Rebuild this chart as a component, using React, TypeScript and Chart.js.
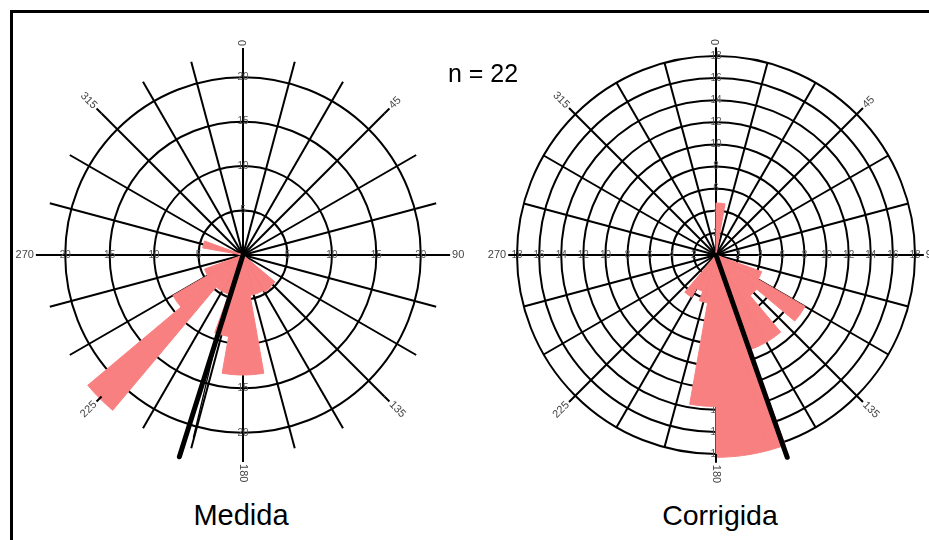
import React, { useEffect, useRef } from "react";
import { Chart, registerables } from "chart.js";

Chart.register(...registerables);

// 10-degree bins (start bearing, clockwise from north)
const binStarts = [
  "0", "10", "20", "30", "40", "50", "60", "70", "80", "90", "100", "110",
  "120", "130", "140", "150", "160", "170", "180", "190", "200", "210", "220", "230",
  "240", "250", "260", "270", "280", "290", "300", "310", "320", "330", "340", "350",
];

// Radii of the petals (in axis units)
const medidaValues = [
  0, 0, 0, 0, 0, 0, 0, 0, 0, 0, 0, 0,
  0, 4.7, 4.8, 4.6, 4.6, 13.5, 13.5, 9.3, 4.7, 4.7, 22.8, 9.1,
  4.6, 0, 0, 0, 4.6, 0, 0, 0, 0, 0, 0, 0,
];
const corrigidaValues = [
  4.7, 0, 0, 0, 0, 0, 0, 0, 0, 0, 0, 4.4,
  9.3, 4.8, 9.1, 9.1, 18.3, 18.3, 13.7, 4.4, 3.5, 4.4, 0, 0,
  0, 0, 0, 0, 0, 0, 0, 0, 0, 0, 0, 0,
];

const medidaTicks = [0, 5, 10, 15, 20];
const corrigidaTicks = [0, 2, 4, 6, 8, 10, 12, 14, 16, 18];

const degreeAngles = [0, 45, 90, 135, 180, 225, 270, 315];
const degreeLabels = ["0", "45", "90", "135", "180", "225", "270", "315"];

// mean direction vectors: [medida, corrigida]
const meanDirections = [197.5, 160.6];
const meanLengths = [23.8, 19.4];
// secondary thin line on "Medida": [bearing, value] start and end
const medidaThinStart = [197.6, 9.2];
const medidaThinEnd = [195.2, 21.3];

const PINK = "#F98080";
const FONT = '"Liberation Sans", Arial, Helvetica, sans-serif';
const LINE_W = 2;

function expand<T>(arr: T[]): T[] {
  const out: T[] = [];
  arr.forEach((v) => {
    out.push(v, v);
  });
  return out;
}

function at(scale: any, bearing: number, value: number) {
  const d = scale.getDistanceFromCenterForValue(value);
  const a = ((bearing - 90) * Math.PI) / 180;
  return { x: scale.xCenter + Math.cos(a) * d, y: scale.yCenter + Math.sin(a) * d };
}

type Cfg = {
  values: number[];
  ticks: number[];
  max: number;
  axisEnd: number;
  meanDir: number;
  meanLen: number;
  thin?: { from: number[]; to: number[] };
};

function makeChart(canvas: HTMLCanvasElement, cfg: Cfg) {
  const overlay = {
    id: "roseOverlay",
    beforeDatasetsDraw(chart: any) {
      const scale = chart.scales.r;
      const ctx = chart.ctx;
      ctx.save();
      ctx.fillStyle = "#555";
      ctx.font = `10px ${FONT}`;
      ctx.textAlign = "center";
      ctx.textBaseline = "middle";
      cfg.ticks.forEach((v) => {
        if (v === 0) return;
        [0, 90, 180, 270].forEach((b) => {
          const p = at(scale, b, v);
          ctx.fillText(String(v), p.x, p.y);
        });
      });
      ctx.restore();
    },
    afterDatasetsDraw(chart: any) {
      const scale = chart.scales.r;
      const ctx = chart.ctx;
      ctx.save();
      // principal axis extensions
      ctx.strokeStyle = "#000";
      ctx.lineWidth = LINE_W;
      degreeAngles.forEach((b) => {
        const p0 = at(scale, b, cfg.max);
        const p1 = at(scale, b, cfg.axisEnd);
        ctx.beginPath();
        ctx.moveTo(p0.x, p0.y);
        ctx.lineTo(p1.x, p1.y);
        ctx.stroke();
      });
      // degree labels
      ctx.fillStyle = "#444";
      ctx.font = `11px ${FONT}`;
      ctx.textBaseline = "middle";
      const gap = 2 / (scale.drawingArea / cfg.max);
      degreeAngles.forEach((b, i) => {
        const p = at(scale, b, cfg.axisEnd + gap);
        ctx.save();
        ctx.translate(p.x, p.y);
        if (b <= 180) {
          ctx.rotate(((b - 90) * Math.PI) / 180);
          ctx.textAlign = "left";
        } else {
          ctx.rotate(((b - 270) * Math.PI) / 180);
          ctx.textAlign = "right";
        }
        ctx.fillText(degreeLabels[i], 0, 0);
        ctx.restore();
      });
      // thin line
      if (cfg.thin) {
        const a = at(scale, cfg.thin.from[0], cfg.thin.from[1]);
        const b = at(scale, cfg.thin.to[0], cfg.thin.to[1]);
        ctx.lineWidth = 1.3;
        ctx.beginPath();
        ctx.moveTo(a.x, a.y);
        ctx.lineTo(b.x, b.y);
        ctx.stroke();
      }
      // mean direction
      const c = at(scale, cfg.meanDir, 0);
      const e = at(scale, cfg.meanDir, cfg.meanLen);
      ctx.lineWidth = 5;
      ctx.lineCap = "round";
      ctx.beginPath();
      ctx.moveTo(c.x, c.y);
      ctx.lineTo(e.x, e.y);
      ctx.stroke();
      ctx.restore();
    },
  };

  return new Chart(canvas, {
    type: "polarArea",
    data: {
      labels: expand(binStarts),
      datasets: [
        {
          data: expand(cfg.values),
          backgroundColor: PINK,
          borderColor: PINK,
          borderWidth: (c: any) => (c.raw > 0 ? 1 : 0),
        } as any,
      ],
    },
    options: {
      responsive: false,
      animation: false,
      events: [],
      layout: { padding: 40 },
      plugins: { legend: { display: false }, tooltip: { enabled: false } },
      scales: {
        r: {
          min: 0,
          max: cfg.max,
          startAngle: 0,
          ticks: { display: false },
          afterBuildTicks: (s: any) => {
            s.ticks = cfg.ticks.map((v) => ({ value: v }));
          },
          grid: { circular: true, color: "#000", lineWidth: LINE_W },
          angleLines: {
            display: true,
            color: "#000",
            lineWidth: (c: any) => (c.index % 3 === 0 ? LINE_W : 0),
          },
          pointLabels: { display: false },
        } as any,
      },
    } as any,
    plugins: [overlay],
  });
}

export default function App() {
  const leftRef = useRef<HTMLCanvasElement>(null);
  const rightRef = useRef<HTMLCanvasElement>(null);

  useEffect(() => {
    const a = makeChart(leftRef.current!, {
      values: medidaValues,
      ticks: medidaTicks,
      max: 22.5,
      axisEnd: 23.3,
      meanDir: meanDirections[0],
      meanLen: meanLengths[0],
      thin: { from: medidaThinStart, to: medidaThinEnd },
    });
    const b = makeChart(rightRef.current!, {
      values: corrigidaValues,
      ticks: corrigidaTicks,
      max: 18,
      axisEnd: 18.8,
      meanDir: meanDirections[1],
      meanLen: meanLengths[1],
    });
    return () => {
      a.destroy();
      b.destroy();
    };
  }, []);

  return (
    <div
      style={{
        position: "fixed",
        left: 0,
        top: 0,
        width: 929,
        height: 540,
        overflow: "hidden",
        background: "#fff",
        fontFamily: FONT,
      }}
    >
      <div
        style={{
          position: "absolute",
          left: 10,
          top: 10,
          width: 1000,
          height: 1000,
          borderTop: "3px solid #000",
          borderLeft: "3px solid #000",
        }}
      />
      <canvas ref={leftRef} width={480} height={480} style={{ position: "absolute", left: 3, top: 15 }} />
      <canvas ref={rightRef} width={478} height={478} style={{ position: "absolute", left: 477, top: 16 }} />
      <div style={{ position: "absolute", left: 241, top: 515, transform: "translate(-50%,-50%)", fontSize: 29, whiteSpace: "nowrap" }}>
        Medida
      </div>
      <div style={{ position: "absolute", left: 720, top: 515, transform: "translate(-50%,-50%)", fontSize: 28.5, whiteSpace: "nowrap" }}>
        Corrigida
      </div>
      <div style={{ position: "absolute", left: 483, top: 73, transform: "translate(-50%,-50%)", fontSize: 25, whiteSpace: "nowrap" }}>
        n = 22
      </div>
    </div>
  );
}
